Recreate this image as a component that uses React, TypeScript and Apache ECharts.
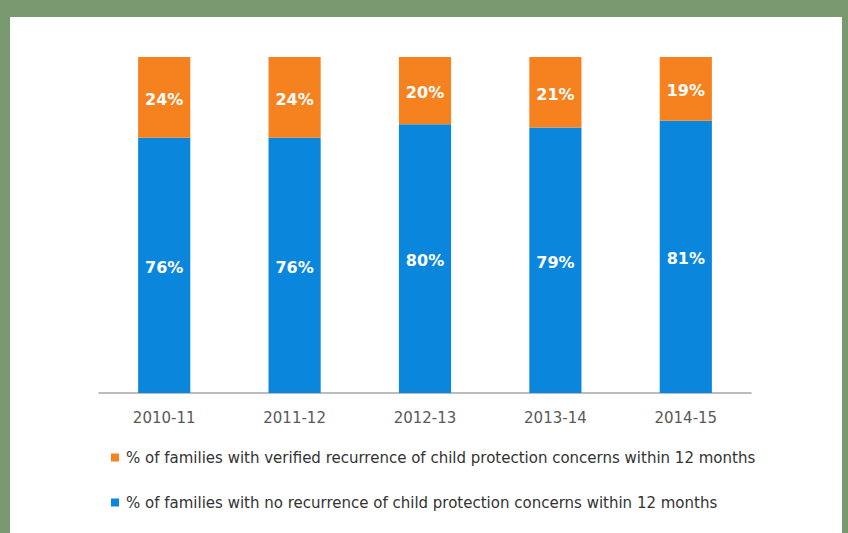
import React, { useEffect, useRef } from "react";
import * as echarts from "echarts";

const categories = ["2010-11", "2011-12", "2012-13", "2013-14", "2014-15"];
const noRecurrence = [76, 76, 80, 79, 81];
const verifiedRecurrence = [24, 24, 20, 21, 19];
const seriesNames = [
  "% of families with verified recurrence of child protection concerns within 12 months",
  "% of families with no recurrence of child protection concerns within 12 months",
];

export default function App() {
  const ref = useRef<HTMLDivElement>(null);
  useEffect(() => {
    document.body.style.margin = "0";
    const chart = echarts.init(ref.current!, undefined, { renderer: "svg" });
    const labelStyle = {
      show: true,
      position: "inside" as const,
      offset: [0, 2],
      color: "#ffffff",
      fontFamily: "DejaVu Sans",
      fontWeight: "bold" as const,
      fontSize: 16,
      formatter: "{c}%",
    };
    chart.setOption({
      animation: false,
      grid: { left: 99, right: 97, top: 57, bottom: 140 },
      legend: {
        orient: "vertical",
        left: 106,
        top: 445,
        itemGap: 30,
        itemWidth: 8,
        itemHeight: 8,
        icon: "rect",
        data: [seriesNames[0], seriesNames[1]],
        textStyle: { fontFamily: "DejaVu Sans", fontSize: 15, color: "#333333", padding: [0, 0, 0, 2] },
      },
      xAxis: {
        type: "category",
        data: categories,
        axisTick: { show: false },
        axisLine: { lineStyle: { color: "#a6a6a6", width: 1.5 } },
        axisLabel: { color: "#595959", fontFamily: "DejaVu Sans", fontSize: 15, margin: 17 },
      },
      yAxis: { type: "value", min: 0, max: 100, show: false, splitLine: { show: false } },
      series: [
        {
          name: seriesNames[1],
          type: "bar",
          stack: "total",
          barWidth: "40%",
          data: noRecurrence,
          itemStyle: { color: "#0a87dd" },
          label: labelStyle,
        },
        {
          name: seriesNames[0],
          type: "bar",
          stack: "total",
          barWidth: "40%",
          data: verifiedRecurrence,
          itemStyle: { color: "#f5821f" },
          label: labelStyle,
        },
      ],
    });
    return () => chart.dispose();
  }, []);
  return (
    <div style={{ position: "relative", width: 848, height: 533, background: "#799a71", overflow: "hidden" }}>
      <div style={{ position: "absolute", left: 10, top: 17, width: 832, height: 516, background: "#ffffff" }} />
      <div ref={ref} style={{ position: "absolute", left: 0, top: 0, width: 848, height: 533 }} />
    </div>
  );
}
